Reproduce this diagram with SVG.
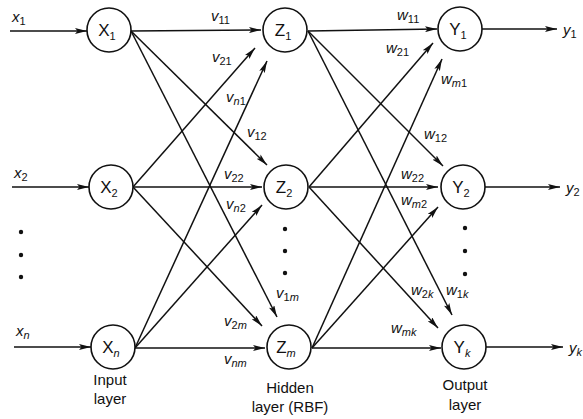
<svg xmlns="http://www.w3.org/2000/svg" width="583" height="419" viewBox="0 0 583 419">
<style>
.node circle{fill:#fff;stroke:#111;stroke-width:1.6}
.nl{font-family:"Liberation Sans",Arial,sans-serif;font-size:17px;fill:#111;text-anchor:middle}
.lbl{font-family:"Liberation Sans",Arial,sans-serif;font-size:15px;font-style:italic;fill:#111}
.sub{font-size:11px;font-style:normal}
.si{font-size:11px;font-style:italic}
.cap{font-family:"Liberation Sans",Arial,sans-serif;font-size:15px;fill:#111;text-anchor:middle}
#connectors line{stroke:#111;stroke-width:1.5;marker-end:url(#ah)}
.dot{fill:#111}
</style>
<defs>
<marker id="ah" viewBox="0 0 12 6" refX="12" refY="3" markerWidth="12" markerHeight="6" orient="auto" markerUnits="userSpaceOnUse">
<path d="M0,0 L12,3 L0,6 L2.5,3 z" fill="#111"/>
</marker>
</defs>
<rect width="583" height="419" fill="#fff"/>
<g id="connectors">
<line x1="10" y1="31" x2="87" y2="31"/>
<line x1="12" y1="187" x2="89" y2="187"/>
<line x1="14" y1="347" x2="91" y2="347"/>
<line x1="131" y1="31" x2="261" y2="30"/>
<line x1="131" y1="31" x2="267" y2="165"/>
<line x1="131" y1="31" x2="277" y2="317"/>
<line x1="133" y1="187" x2="255" y2="48"/>
<line x1="133" y1="187" x2="262" y2="187"/>
<line x1="133" y1="187" x2="262" y2="326"/>
<line x1="135" y1="348" x2="267" y2="61"/>
<line x1="135" y1="348" x2="262" y2="205"/>
<line x1="135" y1="348" x2="265" y2="348"/>
<line x1="308" y1="31" x2="437" y2="29"/>
<line x1="308" y1="31" x2="443" y2="166"/>
<line x1="308" y1="31" x2="452" y2="315"/>
<line x1="309" y1="187" x2="433" y2="43"/>
<line x1="309" y1="187" x2="438" y2="187"/>
<line x1="309" y1="187" x2="438" y2="328"/>
<line x1="312" y1="348" x2="442" y2="59"/>
<line x1="312" y1="348" x2="438" y2="207"/>
<line x1="312" y1="348" x2="441" y2="348"/>
<line x1="482" y1="29" x2="557" y2="29"/>
<line x1="485" y1="187" x2="560" y2="187"/>
<line x1="486" y1="347" x2="563" y2="347"/>
</g>
<g id="X1" class="node"><circle cx="109" cy="30" r="22"/><text class="nl" x="107" y="36">X<tspan class="sub" dy="4">1</tspan></text></g>
<g id="X2" class="node"><circle cx="111" cy="187" r="22"/><text class="nl" x="109" y="193">X<tspan class="sub" dy="4">2</tspan></text></g>
<g id="Xn" class="node"><circle cx="113" cy="347" r="22"/><text class="nl" x="111" y="353">X<tspan class="si" dy="4">n</tspan></text></g>
<g id="Z1" class="node"><circle cx="285" cy="30" r="22"/><text class="nl" x="283" y="36">Z<tspan class="sub" dy="4">1</tspan></text></g>
<g id="Z2" class="node"><circle cx="286" cy="187" r="22"/><text class="nl" x="284" y="193">Z<tspan class="sub" dy="4">2</tspan></text></g>
<g id="Zm" class="node"><circle cx="289" cy="347" r="22"/><text class="nl" x="286" y="353">Z<tspan class="si" dy="4">m</tspan></text></g>
<g id="Y1" class="node"><circle cx="460" cy="29" r="22"/><text class="nl" x="458" y="35">Y<tspan class="sub" dy="4">1</tspan></text></g>
<g id="Y2" class="node"><circle cx="463" cy="187" r="22"/><text class="nl" x="461" y="193">Y<tspan class="sub" dy="4">2</tspan></text></g>
<g id="Yk" class="node"><circle cx="464" cy="347" r="22"/><text class="nl" x="462" y="353">Y<tspan class="si" dy="4">k</tspan></text></g>
<g id="labels">
<text class="lbl" x="12" y="22">x<tspan class="sub" dy="3">1</tspan></text>
<text class="lbl" x="14" y="178">x<tspan class="sub" dy="3">2</tspan></text>
<text class="lbl" x="16" y="336">x<tspan class="si" dy="3">n</tspan></text>
<text class="lbl" x="563" y="35">y<tspan class="sub" dy="3">1</tspan></text>
<text class="lbl" x="566" y="193">y<tspan class="sub" dy="3">2</tspan></text>
<text class="lbl" x="569" y="353">y<tspan class="si" dy="3">k</tspan></text>
<text class="lbl" x="211" y="21">v<tspan class="sub" dy="3">11</tspan></text>
<text class="lbl" x="212" y="62">v<tspan class="sub" dy="3">21</tspan></text>
<text class="lbl" x="226" y="102">v<tspan class="si" dy="3">n</tspan><tspan class="sub">1</tspan></text>
<text class="lbl" x="247" y="137">v<tspan class="sub" dy="3">12</tspan></text>
<text class="lbl" x="224" y="179">v<tspan class="sub" dy="3">22</tspan></text>
<text class="lbl" x="226" y="209">v<tspan class="si" dy="3">n</tspan><tspan class="sub">2</tspan></text>
<text class="lbl" x="276" y="298">v<tspan class="sub" dy="3">1</tspan><tspan class="si">m</tspan></text>
<text class="lbl" x="224" y="326">v<tspan class="sub" dy="3">2</tspan><tspan class="si">m</tspan></text>
<text class="lbl" x="224" y="364">v<tspan class="si" dy="3">nm</tspan></text>
<text class="lbl" x="397" y="20">w<tspan class="sub" dy="3">11</tspan></text>
<text class="lbl" x="386" y="53">w<tspan class="sub" dy="3">21</tspan></text>
<text class="lbl" x="441" y="84">w<tspan class="si" dy="3">m</tspan><tspan class="sub">1</tspan></text>
<text class="lbl" x="424" y="139">w<tspan class="sub" dy="3">12</tspan></text>
<text class="lbl" x="401" y="179">w<tspan class="sub" dy="3">22</tspan></text>
<text class="lbl" x="401" y="205">w<tspan class="si" dy="3">m</tspan><tspan class="sub">2</tspan></text>
<text class="lbl" x="411" y="295">w<tspan class="sub" dy="3">2</tspan><tspan class="si">k</tspan></text>
<text class="lbl" x="446" y="295">w<tspan class="sub" dy="3">1</tspan><tspan class="si">k</tspan></text>
<text class="lbl" x="391" y="333">w<tspan class="si" dy="3">mk</tspan></text>
</g>
<g id="dots">
<circle class="dot" cx="21" cy="232" r="2.2"/><circle class="dot" cx="21" cy="255" r="2.2"/><circle class="dot" cx="21" cy="277" r="2.2"/>
<circle class="dot" cx="285" cy="229" r="2.2"/><circle class="dot" cx="285" cy="251" r="2.2"/><circle class="dot" cx="285" cy="273" r="2.2"/>
<circle class="dot" cx="465" cy="228" r="2.2"/><circle class="dot" cx="465" cy="251" r="2.2"/><circle class="dot" cx="465" cy="274" r="2.2"/>
</g>
<g id="captions">
<text class="cap" x="110" y="385">Input</text>
<text class="cap" x="110" y="404">layer</text>
<text class="cap" x="290" y="393">Hidden</text>
<text class="cap" x="290" y="412">layer (RBF)</text>
<text class="cap" x="465" y="390">Output</text>
<text class="cap" x="465" y="410">layer</text>
</g>
</svg>
